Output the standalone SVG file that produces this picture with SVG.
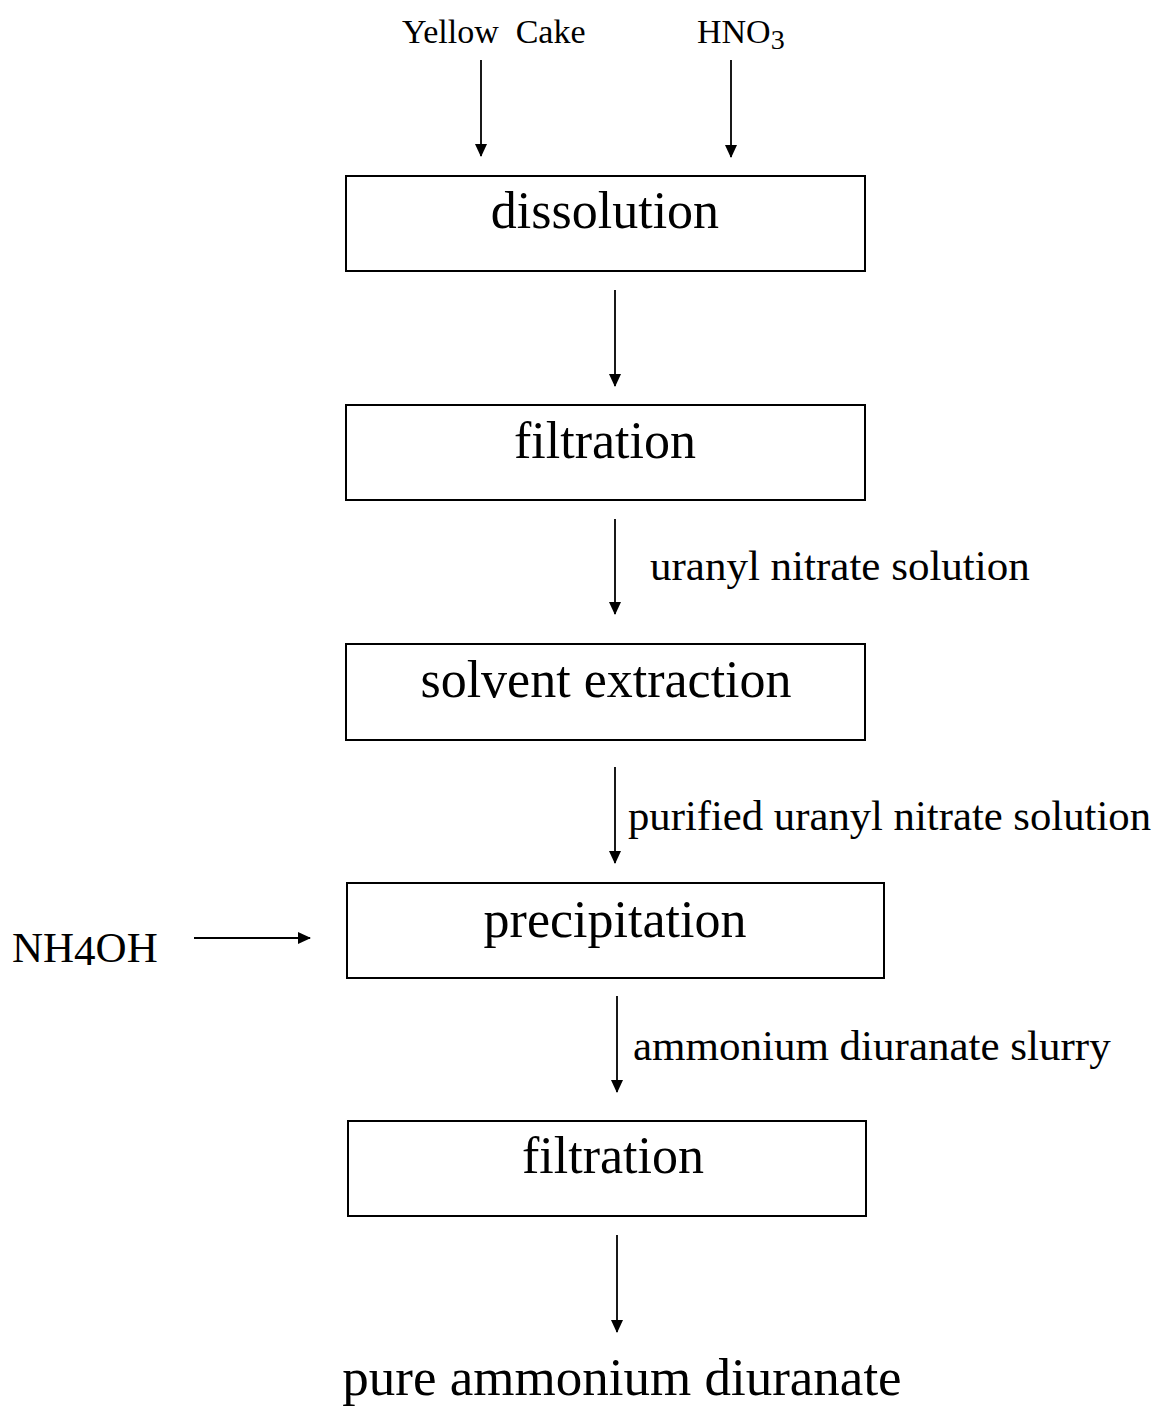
<svg xmlns="http://www.w3.org/2000/svg" width="1159" height="1411" viewBox="0 0 1159 1411">
<style>
.box{fill:#fff;stroke:#000;stroke-width:2}
.t{font-family:"Liberation Serif","Times New Roman",serif;fill:#000}
.big{font-size:52px;text-anchor:middle}
.top{font-size:34px}
.con{stroke:#000;stroke-width:1.8;fill:none;marker-end:url(#ah)}
</style>
<defs>
<marker id="ah" markerWidth="13" markerHeight="12" refX="12" refY="6" orient="auto" markerUnits="userSpaceOnUse" viewBox="0 0 13 12">
<path d="M0,0 L13,6 L0,12 Z" fill="#000"/>
</marker>
</defs>
<rect width="1159" height="1411" fill="#fff"/>
<g id="inputs">
<text class="t top" x="402" y="43" xml:space="preserve">Yellow  Cake</text>
<text class="t top" x="697" y="43">HNO<tspan font-size="28" dy="6">3</tspan></text>
<text class="t" x="12" y="962" font-size="43">NH<tspan dy="3">4</tspan><tspan dy="-3">OH</tspan></text>
</g>
<g id="n-dissolution"><rect class="box" x="346" y="176" width="519" height="95"/><text class="t big" x="605" y="228">dissolution</text></g>
<g id="n-filtration1"><rect class="box" x="346" y="405" width="519" height="95"/><text class="t big" x="605" y="458">filtration</text></g>
<g id="n-solvent"><rect class="box" x="346" y="644" width="519" height="96"/><text class="t big" x="606" y="697">solvent extraction</text></g>
<g id="n-precipitation"><rect class="box" x="347" y="883" width="537" height="95"/><text class="t big" x="615" y="937">precipitation</text></g>
<g id="n-filtration2"><rect class="box" x="348" y="1121" width="518" height="95"/><text class="t big" x="613" y="1173">filtration</text></g>
<g id="n-product"><text class="t" x="622" y="1395" font-size="53" text-anchor="middle">pure ammonium diuranate</text></g>
<g id="connectors">
<line class="con" x1="481" y1="60" x2="481" y2="156"/>
<line class="con" x1="731" y1="60" x2="731" y2="157"/>
<line class="con" x1="615" y1="290" x2="615" y2="386"/>
<line class="con" x1="615" y1="519" x2="615" y2="614"/>
<line class="con" x1="615" y1="767" x2="615" y2="863"/>
<line class="con" x1="617" y1="996" x2="617" y2="1092"/>
<line class="con" x1="617" y1="1235" x2="617" y2="1332"/>
<line class="con" x1="194" y1="938" x2="310" y2="938"/>
</g>
<g id="labels">
<text class="t" x="650" y="580" font-size="43">uranyl nitrate solution</text>
<text class="t" x="628" y="830" font-size="42" textLength="523" lengthAdjust="spacingAndGlyphs">purified uranyl nitrate solution</text>
<text class="t" x="633" y="1060" font-size="43">ammonium diuranate slurry</text>
</g>
</svg>
